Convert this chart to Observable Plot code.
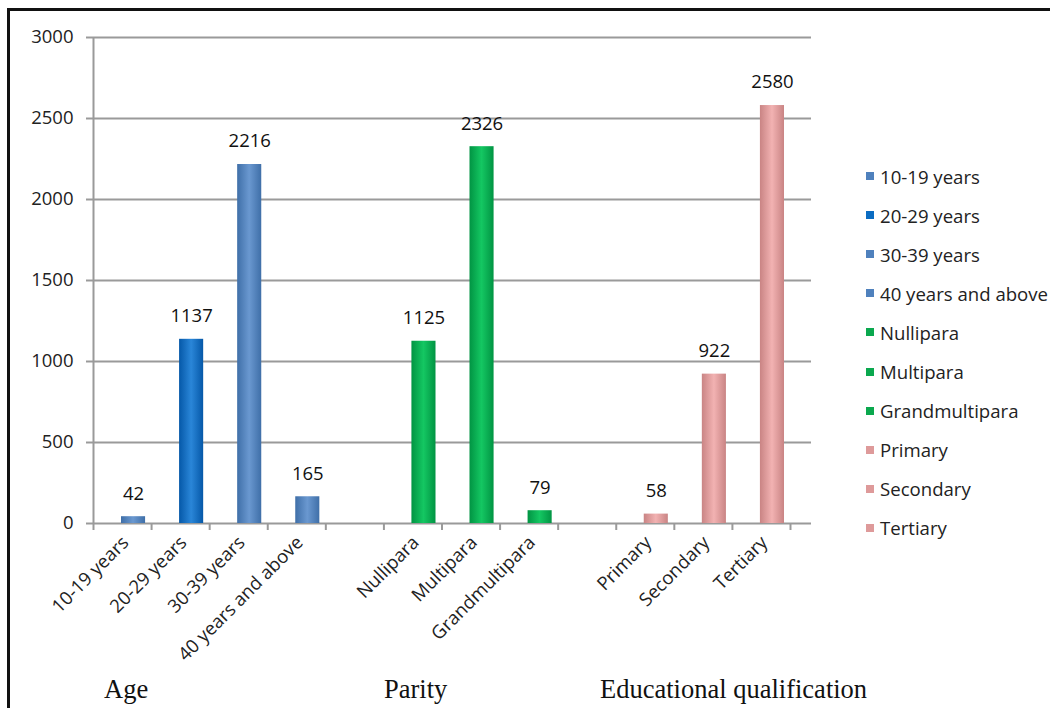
<!DOCTYPE html>
<html>
<head>
<meta charset="utf-8">
<script src="https://cdn.jsdelivr.net/npm/d3@7"></script>
<script src="https://cdn.jsdelivr.net/npm/@observablehq/plot@0.6"></script>
<style>
  body { margin: 0; background: #fff; }
  #wrap { position: relative; width: 1050px; height: 708px; overflow: hidden; background: #fff; }
  #frame { position: absolute; left: 7px; top: 8px; width: 1200px; height: 900px;
           border-left: 3px solid #111; border-top: 3px solid #111; }
  #chart { position: absolute; left: 0; top: 0; }
  .grp { position: absolute; font-family: "Liberation Serif", serif; font-size: 26.5px; color: #111;
         white-space: nowrap; line-height: 1; }
  #legend { position: absolute; left: 866px; top: 0; font-family: "Open Sans", sans-serif;
            font-size: 18.6px; color: #222; }
  .li { position: absolute; left: 0; height: 24px; display: flex; align-items: center; white-space: nowrap; }
  .sw { width: 8px; height: 8px; margin-right: 6px; flex: none; }
</style>
</head>
<body>
<div id="wrap">
  <div id="frame"></div>
  <div id="chart"></div>
  <div id="legend"></div>
</div>
<script>
// ---- data ----
const categories = ["10-19 years", "20-29 years", "30-39 years", "40 years and above", " ",
                    "Nullipara", "Multipara", "Grandmultipara", "  ",
                    "Primary", "Secondary", "Tertiary"];
const values = [42, 1137, 2216, 165, null, 1125, 2326, 79, null, 58, 922, 2580];
const groups = ["Age", "Age", "Age", "Age", null, "Parity", "Parity", "Parity", null,
                "Educational qualification", "Educational qualification", "Educational qualification"];
const groupNames = ["Age", "Parity", "Educational qualification"];
const yTicks = [0, 500, 1000, 1500, 2000, 2500, 3000];
const legendLabels = ["10-19 years", "20-29 years", "30-39 years", "40 years and above",
                      "Nullipara", "Multipara", "Grandmultipara", "Primary", "Secondary", "Tertiary"];

// ---- styles (kept separate from data) ----
const gradients = {
  gBlue:  ["#3f6fa8", "#6a98d0", "#3f6fa8"],
  gBlue2: ["#0558a8", "#2a86d8", "#0558a8"],
  gGreen: ["#019443", "#14c762", "#019443"],
  gPink:  ["#c98484", "#f2b2b2", "#c98484"]
};
const gradByCat = {
  "10-19 years": "gBlue", "20-29 years": "gBlue2", "30-39 years": "gBlue", "40 years and above": "gBlue",
  "Nullipara": "gGreen", "Multipara": "gGreen", "Grandmultipara": "gGreen",
  "Primary": "gPink", "Secondary": "gPink", "Tertiary": "gPink"
};
const solidByCat = {
  "10-19 years": "#4f81bd", "20-29 years": "#0b6cc2", "30-39 years": "#4f81bd", "40 years and above": "#4f81bd",
  "Nullipara": "#0aa84e", "Multipara": "#0aa84e", "Grandmultipara": "#0aa84e",
  "Primary": "#de9a9a", "Secondary": "#de9a9a", "Tertiary": "#de9a9a"
};

const data = categories.map((c, i) => ({cat: c, i, value: values[i], group: groups[i]}))
                       .filter(d => d.value != null);
const slots = d3.range(categories.length + 1);

const plot = Plot.plot({
  width: 830,
  height: 708,
  marginLeft: 93,
  marginTop: 37,
  marginBottom: 185,
  marginRight: 19,
  x: {domain: [0, categories.length], insetRight: 21, axis: null},
  y: {domain: [0, 3000], axis: null},
  color: {type: "identity"},
  style: {fontFamily: "Open Sans, sans-serif", fontSize: "18px", color: "#222", background: "transparent", overflow: "visible"},
  marks: [
    Plot.ruleY(yTicks, {stroke: "#9a9a9a", strokeWidth: 2}),
    Plot.ruleX([0], {stroke: "#9a9a9a", strokeWidth: 2}),
    Plot.axisY(yTicks, {tickSize: 7, tickPadding: 13, tickFormat: d => String(d), stroke: "#9a9a9a", strokeWidth: 2, fill: "#222", fontSize: 18.5, label: null}),
    Plot.axisX(slots, {tickSize: 7, tickFormat: () => "", stroke: "#9a9a9a", strokeWidth: 2, label: null}),
    Plot.rectY(data, {
      x1: d => d.i, x2: d => d.i + 1, y: "value",
      fill: d => `url(#${gradByCat[d.cat]})`,
      insetLeft: 28, insetRight: 6
    }),
    Plot.text(data, {
      x: d => d.i + 0.5, y: "value", text: d => String(d.value),
      dx: 11, dy: -23, fill: "#111", fontSize: 18.5
    }),
    Plot.text(data, {
      x: d => d.i + 0.5, y: 0, text: "cat",
      rotate: -45, textAnchor: "end", dx: 3, dy: 16, fill: "#222", fontSize: 18.5
    })
  ]
});

// gradient defs for bar shading
const defs = d3.create("svg:defs");
for (const [id, stops] of Object.entries(gradients)) {
  const g = defs.append("linearGradient").attr("id", id).attr("x1", "0").attr("x2", "1").attr("y1", "0").attr("y2", "0");
  g.append("stop").attr("offset", "0%").attr("stop-color", stops[0]);
  g.append("stop").attr("offset", "50%").attr("stop-color", stops[1]);
  g.append("stop").attr("offset", "100%").attr("stop-color", stops[2]);
}
plot.insertBefore(defs.node(), plot.firstChild);
document.getElementById("chart").appendChild(plot);

// group labels below the axis
const grpLeft = {"Age": 104, "Parity": 384, "Educational qualification": 600};
const wrap = document.getElementById("wrap");
for (const name of groupNames) {
  const el = document.createElement("div");
  el.className = "grp";
  el.textContent = name;
  el.style.left = grpLeft[name] + "px";
  el.style.top = "676px";
  wrap.appendChild(el);
}

// legend
const legend = document.getElementById("legend");
legendLabels.forEach((lab, k) => {
  const row = document.createElement("div");
  row.className = "li";
  row.style.top = (164 + k * 39.1) + "px";
  const sw = document.createElement("span");
  sw.className = "sw";
  sw.style.background = solidByCat[lab];
  const tx = document.createElement("span");
  tx.textContent = lab;
  row.appendChild(sw);
  row.appendChild(tx);
  legend.appendChild(row);
});
</script>
</body>
</html>
